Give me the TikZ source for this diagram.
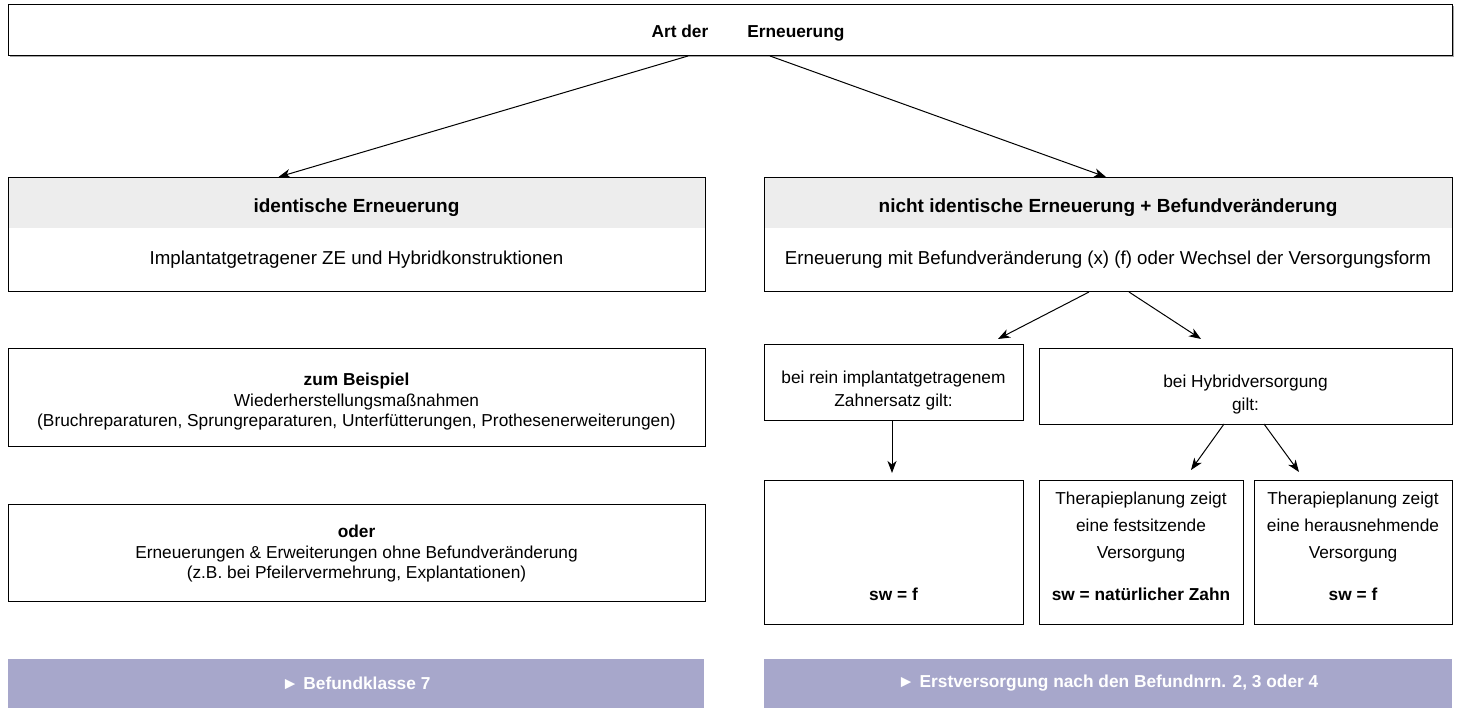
\documentclass[tikz,border=0pt]{standalone}
\usepackage{fontspec}
\setmainfont{Liberation Sans}
\usetikzlibrary{arrows.meta,shadows}
\definecolor{headgray}{HTML}{EDEDED}
\definecolor{barpurple}{HTML}{A7A7CB}
\begin{document}
\begin{tikzpicture}[x=1pt,y=-1pt,
  every node/.style={inner sep=0pt, outer sep=0pt},
  txt/.style={font=\fontsize{17.3}{21}\selectfont, align=center},
  boldtxt/.style={font=\fontsize{17.3}{21}\selectfont\bfseries, align=center},
  headtxt/.style={font=\fontsize{18.7}{22}\selectfont, align=center},
  headbold/.style={font=\fontsize{19}{22}\selectfont\bfseries, align=center},
  frame/.style={draw=black, line width=1pt},
  band/.style={fill=headgray},
  bar/.style={fill=barpurple, text=white, font=\fontsize{17.3}{21}\selectfont\bfseries},
  arr/.style={line width=1pt, -{Stealth[length=12pt,width=9pt,inset=3.5pt]}},
]
\fill[white] (0,0) rectangle (1459,708);
\useasboundingbox (0,0) rectangle (1459,708);

% top box
\node[frame, fill=white, minimum width=1444pt, minimum height=51pt,
  drop shadow={shadow xshift=1.5pt, shadow yshift=-1.5pt, fill=gray!70, opacity=1}] (top) at (730,30.5) {};
\node[boldtxt] (toptitle) at (748,33) {Art der\hspace{39pt}Erneuerung};

% left header box
\node[band, minimum width=697pt, minimum height=50pt] (idband) at (356.5,203) {};
\node[frame, minimum width=697pt, minimum height=114pt] (idbox) at (356.5,235) {};
\node[headbold] (idtitle) at (356.5,208) {identische Erneuerung};
\node[headtxt] (idtext) at (356.5,259.5) {Implantatgetragener ZE und Hybridkonstruktionen};

% right header box
\node[band, minimum width=688pt, minimum height=50pt] (niband) at (1108,203) {};
\node[frame, minimum width=688pt, minimum height=114pt] (nibox) at (1108,235) {};
\node[headbold] (nititle) at (1108,208) {nicht identische Erneuerung + Befundveränderung};
\node[headtxt] (nitext) at (1108,259.5) {Erneuerung mit Befundveränderung (x) (f) oder Wechsel der Versorgungsform};

% left column boxes
\node[frame, minimum width=697pt, minimum height=97pt] (bsp) at (356.5,397.5) {};
\node[txt, font=\fontsize{17.3}{20.5}\selectfont] (bsptext) at (356.5,402)
  {\textbf{zum Beispiel}\\Wiederherstellungsmaßnahmen\\(Bruchreparaturen, Sprungreparaturen, Unterfütterungen, Prothesenerweiterungen)};
\node[frame, minimum width=697pt, minimum height=97pt] (oder) at (356.5,552.5) {};
\node[txt, font=\fontsize{17.3}{20.5}\selectfont] (odertext) at (356.5,554)
  {\textbf{oder}\\Erneuerungen \& Erweiterungen ohne Befundveränderung\\(z.B. bei Pfeilervermehrung, Explantationen)};

% right column middle boxes
\node[frame, minimum width=259pt, minimum height=75pt] (rein) at (893.5,382.5) {};
\node[txt, font=\fontsize{17.3}{23}\selectfont] (reintext) at (893.5,391)
  {bei rein implantatgetragenem\\Zahnersatz gilt:};
\node[frame, minimum width=413pt, minimum height=75pt] (hyb) at (1245.5,386.5) {};
\node[txt, font=\fontsize{17.3}{23}\selectfont] (hybtext) at (1245.5,394.5)
  {bei Hybridversorgung\\gilt:};

% bottom boxes
\node[frame, minimum width=259pt, minimum height=144pt] (b1) at (893.5,552) {};
\node[boldtxt] (b1sw) at (893.5,594) {sw = f};
\node[frame, minimum width=204pt, minimum height=144pt] (b2) at (1141,552) {};
\node[txt, font=\fontsize{17.3}{27}\selectfont] (b2text) at (1141,527)
  {Therapieplanung zeigt\\eine festsitzende\\Versorgung};
\node[boldtxt] (b2sw) at (1141,594) {sw = natürlicher Zahn};
\node[frame, minimum width=198pt, minimum height=144pt] (b3) at (1353,552) {};
\node[txt, font=\fontsize{17.3}{27}\selectfont] (b3text) at (1353,527)
  {Therapieplanung zeigt\\eine herausnehmende\\Versorgung};
\node[boldtxt] (b3sw) at (1353,594) {sw = f};

% result bars
\node[bar, minimum width=696pt, minimum height=49pt] (bar1) at (356,683.5) {► Befundklasse 7};
\node[bar, minimum width=688pt, minimum height=49pt] (bar2) at (1108,683.5) {► Erstversorgung nach den Befundnrn. 2, 3 oder 4};

% arrows
\draw[arr] ([xshift=-42pt]top.south) -- ([xshift=-78pt,yshift=1pt]idbox.north);
\draw[arr] ([xshift=40pt]top.south) -- ([xshift=-2pt,yshift=1pt]nibox.north);
\draw[arr] ([xshift=-19pt]nibox.south) -- ([xshift=104.5pt,yshift=6pt]rein.north);
\draw[arr] ([xshift=21pt]nibox.south) -- ([xshift=-44.5pt,yshift=10pt]hyb.north);
\draw[arr] ([xshift=-1.5pt]rein.south) -- ([xshift=-1.5pt,yshift=7pt]b1.north);
\draw[arr] ([xshift=-21.5pt]hyb.south) -- ([xshift=50pt,yshift=10pt]b2.north);
\draw[arr] ([xshift=18.5pt]hyb.south) -- ([xshift=-54pt,yshift=8pt]b3.north);
\end{tikzpicture}
\end{document}
